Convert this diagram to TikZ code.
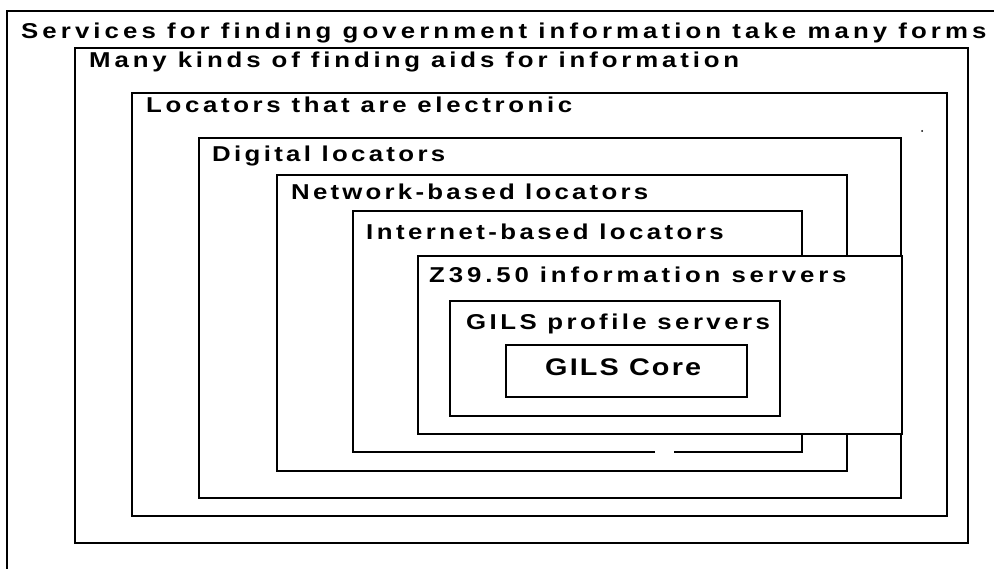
\documentclass[tikz,border=0pt]{standalone}
\usepackage{fontspec}
\setmainfont{Liberation Sans}
\newfontfamily\labfont{Liberation Sans Bold}[FakeStretch=1.2]
\newcommand\lab[2]{{\addfontfeature{LetterSpace=#1}#2}}
\begin{document}
\begin{tikzpicture}[x=1pt,y=-1pt,
  frame/.style={draw=black,line width=1.6pt,fill=white},
  lbl/.style={anchor=base west,inner sep=0pt,font=\fontsize{21.5}{24}\labfont}]
\useasboundingbox (0,0) rectangle (994,569);
% outer open frame
\draw[line width=1.6pt] (994,11) -- (7,11) -- (7,569);
% nested boxes
\draw[frame] (75,48) rectangle (968,543);
\draw[frame] (132,93) rectangle (947,516);
\draw[frame] (199,138) rectangle (901,498);
\draw[frame] (277,175) rectangle (847,471);
\fill[white] (353,211) rectangle (802,452);
\draw[line width=1.6pt] (655,452) -- (353,452) -- (353,211) -- (802,211) -- (802,452) -- (674,452);
\draw[frame] (418,256) rectangle (902,434);
\draw[frame] (450,301) rectangle (780,416);
\draw[frame] (506,345) rectangle (747,397);
\fill (922,131) circle (1pt);
% labels
\node[lbl] (t1) at (21,39) {\lab{19}{Services for finding government information take many forms}};
\node[lbl] (t2) at (89,68) {\lab{18}{Many kinds of finding aids for information}};
\node[lbl] (t3) at (146,113) {\lab{17}{Locators that are electronic}};
\node[lbl] (t4) at (212,162) {\lab{15.5}{Digital locators}};
\node[lbl] (t5) at (291,200) {\lab{15}{Network-based locators}};
\node[lbl] (t6) at (366,240) {\lab{16}{Internet-based locators}};
\node[lbl] (t7) at (429,283) {\lab{18}{Z39.50 information servers}};
\node[lbl] (t8) at (466,330) {\lab{16}{GILS profile servers}};
\node[lbl,font=\fontsize{24}{27}\labfont] (t9) at (545,375.5) {\lab{9}{GILS Core}};
\end{tikzpicture}
\end{document}
